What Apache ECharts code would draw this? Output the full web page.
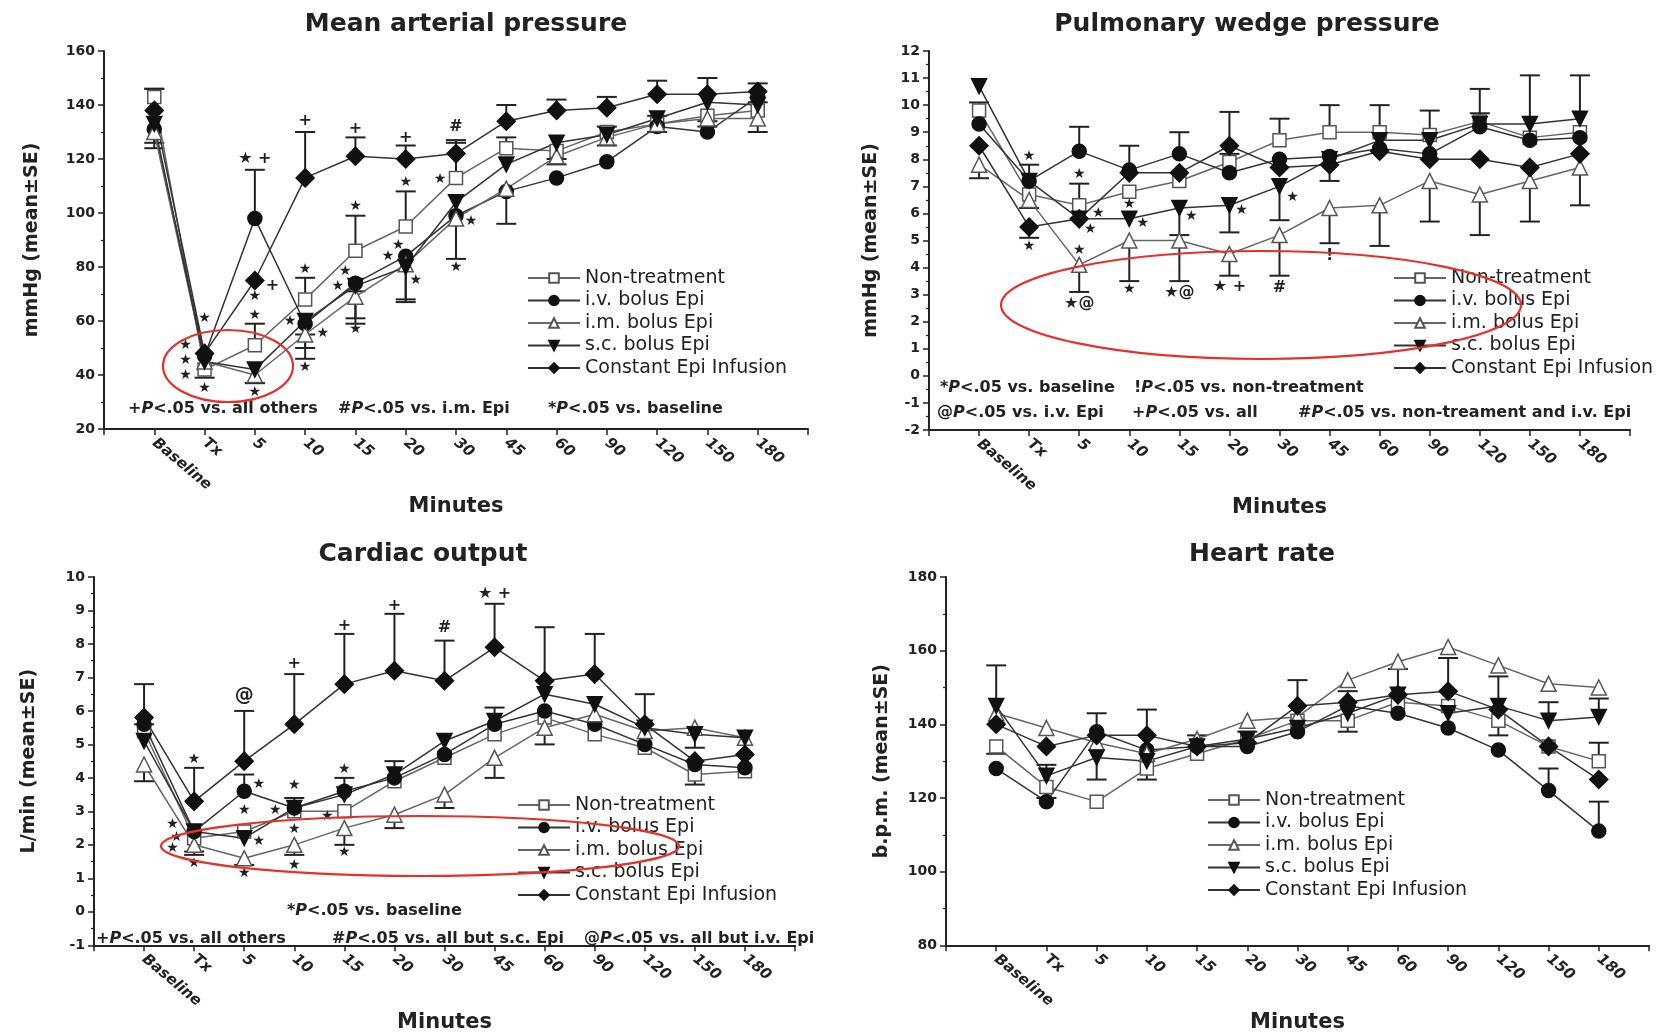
<!DOCTYPE html>
<html>
<head>
<meta charset="utf-8">
<script src="https://cdn.jsdelivr.net/npm/echarts/dist/echarts.min.js"></script>
<style>
html, body { margin: 0; background: #fff; }
#main { width: 1678px; height: 1034px; }
</style>
</head>
<body>
<div id="main"></div>
<script>
var timeLabels = ['Baseline', 'Tx', '5', '10', '15', '20', '30', '45', '60', '90', '120', '150', '180'];
var groupNames = ['Non-treatment', 'i.v. bolus Epi', 'i.m. bolus Epi', 's.c. bolus Epi', 'Constant Epi Infusion'];

// Mean arterial pressure (mmHg)
var mapNonTreat = [143, 42, 51, 68, 86, 95, 113, 124, 123, 130, 133, 136, 138];
var mapIvBolus  = [131, 47, 98, 59, 74, 84, 99, 108, 113, 119, 132, 130, 143];
var mapImBolus  = [130, 45, 40, 55, 69, 81, 98, 109, 121, 128, 133, 135, 135];
var mapScBolus  = [133, 45, 42, 60, 73, 80, 104, 118, 126, 129, 135, 141, 140];
var mapInfusion = [138, 48, 75, 113, 121, 120, 122, 134, 138, 139, 144, 144, 145];
// SE bars: + drawn upward, - drawn downward, 0 = not shown
var mapNonTreatSE = [3, -3, 8, 8, 13, 13, 13, 4, -3, 2, 3, -2, 3];
var mapIvBolusSE  = [-7, 0, 18, -4, -3, -17, -16, 0, 0, 0, 0, 0, 0];
var mapImBolusSE  = [-4, 0, -3, -9, -8, 0, 0, -13, -3, -3, -3, -3, -5];
var mapScBolusSE  = [0, 0, -5, -10, -14, -12, 0, 0, 0, 0, 0, 0, 0];
var mapInfusionSE = [8, 0, 0, 17, 7, 5, 5, 6, 4, 4, 5, 6, 3];
var mapMarks = [
  [1, 61, '★'], [0.62, 51, '★'], [0.62, 45.5, '★'], [0.62, 40, '★'], [1, 35, '★'],
  [2, 120, '★ +'], [2, 69, '★'], [2.35, 73, '+'], [2, 62, '★'], [2, 33.5, '★'],
  [3, 134, '+'], [3, 79, '★'], [2.7, 60, '★'], [3.35, 55.5, '★'], [3, 43, '★'],
  [4, 131, '+'], [4, 102.5, '★'], [3.8, 78.5, '★'], [3.65, 73, '★'], [4, 57, '★'],
  [5, 128, '+'], [5, 111.5, '★'], [4.85, 88, '★'], [4.65, 84, '★'], [5.2, 75, '★'],
  [6, 132, '#'], [5.68, 112.5, '★'], [6.3, 97, '★'], [6, 80, '★']
];

// Pulmonary wedge pressure (mmHg)
var pwpNonTreat = [9.8, 6.7, 6.3, 6.8, 7.2, 7.9, 8.7, 9.0, 9.0, 8.9, 9.4, 8.8, 9.0];
var pwpIvBolus  = [9.3, 7.2, 8.3, 7.6, 8.2, 7.5, 8.0, 8.1, 8.4, 8.2, 9.2, 8.7, 8.8];
var pwpImBolus  = [7.8, 6.5, 4.1, 5.0, 5.0, 4.5, 5.2, 6.2, 6.3, 7.2, 6.7, 7.2, 7.7];
var pwpScBolus  = [10.7, 7.2, 5.8, 5.8, 6.2, 6.3, 7.0, 8.0, 8.7, 8.7, 9.3, 9.3, 9.5];
var pwpInfusion = [8.5, 5.5, 5.8, 7.5, 7.5, 8.5, 7.7, 7.8, 8.3, 8.0, 8.0, 7.7, 8.2];
var pwpNonTreatSE = [0.3, -0.5, 0.8, 0, 0, 0.3, 0.8, 1.0, 1.0, 0.9, 0.3, 0, 0];
var pwpIvBolusSE  = [0, 0, 0.9, 0.9, 0.8, 0, 0, 0, 0, 0, 0, 0, 0];
var pwpImBolusSE  = [-0.5, 0, -1.0, -1.5, -1.5, -0.8, -1.5, -1.3, -1.5, -1.5, -1.5, -1.5, -1.4];
var pwpScBolusSE  = [0, 0.6, 0, 0, -1.0, -1.0, -1.25, 0, 0, 0, 1.3, 1.8, 1.6];
var pwpInfusionSE = [0, -0.4, 0, 0, 0, 1.25, 0, -0.6, 0, 0, 0, 0, 0];
var pwpMarks = [
  [1, 8.1, '★'], [1, 4.8, '★'],
  [2, 7.45, '★'], [2.38, 6.0, '★'], [2.22, 5.4, '★'], [2, 4.65, '★'], [2, 2.65, '★@'],
  [3, 6.35, '★'], [3.27, 5.65, '★'], [3, 3.2, '★'],
  [4.24, 5.9, '★'], [4, 3.05, '★@'],
  [5.24, 6.1, '★'], [5, 3.3, '★ +'],
  [6.26, 6.6, '★'], [6, 3.25, '#'],
  [7, 4.45, '!']
];

// Cardiac output (L/min)
var coNonTreat = [5.4, 2.2, 2.4, 3.0, 3.0, 3.9, 4.6, 5.3, 5.8, 5.3, 4.9, 4.1, 4.2];
var coIvBolus  = [5.6, 2.4, 3.6, 3.1, 3.6, 4.0, 4.7, 5.6, 6.0, 5.6, 5.0, 4.4, 4.3];
var coImBolus  = [4.4, 2.0, 1.6, 2.0, 2.5, 2.9, 3.5, 4.6, 5.5, 5.9, 5.4, 5.5, 5.2];
var coScBolus  = [5.1, 2.4, 2.2, 3.1, 3.5, 4.1, 5.1, 5.7, 6.5, 6.2, 5.5, 5.3, 5.2];
var coInfusion = [5.8, 3.3, 4.5, 5.6, 6.8, 7.2, 6.9, 7.9, 6.9, 7.1, 5.6, 4.5, 4.7];
var coNonTreatSE = [0.2, -0.5, 0, 0.4, 0, 0, 0, 0, 0, 0, 0, -0.3, 0];
var coIvBolusSE  = [0, 0, 0.5, 0, 0.4, 0.5, 0, 0.5, 0, 0, 0, 0, 0];
var coImBolusSE  = [-0.5, -0.2, -0.2, -0.3, -0.5, -0.4, -0.4, -0.6, -0.5, 0, 0, 0, 0];
var coScBolusSE  = [0, 0, 0, 0, 0, 0, 0, 0, 0, 0, 0, -0.4, 0];
var coInfusionSE = [1.0, 1.0, 1.5, 1.5, 1.5, 1.7, 1.2, 1.3, 1.6, 1.2, 0.9, 0, 0];
var coMarks = [
  [1, 4.55, '★'], [0.57, 2.6, '★'], [0.65, 2.23, '★'], [0.57, 1.88, '★'], [1, 1.45, '★'],
  [2, 6.45, '@'], [2.29, 3.8, '★'], [2, 3.03, '★'], [2.29, 2.1, '★'], [2, 1.15, '★'],
  [3, 7.42, '+'], [3, 3.78, '★'], [2.62, 3.03, '★'], [3, 2.46, '★'], [3, 1.4, '★'],
  [4, 8.53, '+'], [4, 4.24, '★'], [3.66, 2.84, '★'], [4, 1.78, '★'],
  [5, 9.13, '+'], [6, 8.48, '#'], [7, 9.5, '★ +']
];

// Heart rate (b.p.m.)
var hrNonTreat = [134, 123, 119, 128, 132, 136, 141, 141, 146, 145, 141, 134, 130];
var hrIvBolus  = [128, 119, 138, 133, 134, 134, 138, 145, 143, 139, 133, 122, 111];
var hrImBolus  = [143, 139, 135, 132, 136, 141, 142, 152, 157, 161, 156, 151, 150];
var hrScBolus  = [145, 126, 131, 130, 134, 136, 139, 143, 148, 143, 145, 141, 142];
var hrInfusion = [140, 134, 137, 137, 134, 135, 145, 146, 148, 149, 144, 134, 125];
var hrNonTreatSE = [-2, -3, 0, -3, 0, 0, 0, -3, 0, 0, -4, 0, 5];
var hrIvBolusSE  = [0, 0, 0, 0, 0, 0, 0, 0, 0, 0, 0, 6, 8];
var hrImBolusSE  = [0, 0, 0, 0, 0, 0, 0, 0, 0, 0, 0, 0, 0];
var hrScBolusSE  = [11, 3, -6, 0, 0, 0, 0, 0, 0, 0, 8, 5, 5];
var hrInfusionSE = [0, 0, 6, 7, 3, 3, 7, 3, 7, 9, 0, 0, 0];

var FONT = 'DejaVu Sans';
var INK = '#222';

var groupStyle = [
  { symbol: 'rect', size: 13, rotate: 0, fill: '#fff', border: '#555', line: '#666' },
  { symbol: 'circle', size: 14, rotate: 0, fill: '#111', border: '#111', line: '#333' },
  { symbol: 'triangle', size: 15, rotate: 0, fill: '#fff', border: '#555', line: '#666' },
  { symbol: 'triangle', size: 15, rotate: 180, fill: '#111', border: '#111', line: '#333' },
  { symbol: 'diamond', size: 18, rotate: 0, fill: '#111', border: '#111', line: '#333' }
];

var panels = [
  { title: 'Mean arterial pressure', tx: 466, ty: 24, yName: 'mmHg (mean±SE)', yGap: 62, xGap: 52,
    min: 20, max: 160, step: 20, grid: { left: 104, top: 51, width: 704, height: 378 },
    legend: { left: 527, top: 268 },
    means: [mapNonTreat, mapIvBolus, mapImBolus, mapScBolus, mapInfusion],
    se: [mapNonTreatSE, mapIvBolusSE, mapImBolusSE, mapScBolusSE, mapInfusionSE], marks: mapMarks },
  { title: 'Pulmonary wedge pressure', tx: 1247, ty: 24, yName: 'mmHg (mean±SE)', yGap: 48, xGap: 52,
    min: -2, max: 12, step: 1, grid: { left: 929, top: 51, width: 701, height: 379 },
    legend: { left: 1393, top: 268 },
    means: [pwpNonTreat, pwpIvBolus, pwpImBolus, pwpScBolus, pwpInfusion],
    se: [pwpNonTreatSE, pwpIvBolusSE, pwpImBolusSE, pwpScBolusSE, pwpInfusionSE], marks: pwpMarks },
  { title: 'Cardiac output', tx: 423, ty: 554, yName: 'L/min (mean±SE)', yGap: 55, xGap: 54,
    min: -1, max: 10, step: 1, grid: { left: 94, top: 577, width: 701, height: 380 },
    legend: { left: 517, top: 795 },
    means: [coNonTreat, coIvBolus, coImBolus, coScBolus, coInfusion],
    se: [coNonTreatSE, coIvBolusSE, coImBolusSE, coScBolusSE, coInfusionSE], marks: coMarks },
  { title: 'Heart rate', tx: 1262, ty: 554, yName: 'b.p.m. (mean±SE)', yGap: 54, xGap: 51,
    min: 80, max: 180, step: 20, grid: { left: 946, top: 577, width: 703, height: 380 },
    legend: { left: 1207, top: 790 },
    means: [hrNonTreat, hrIvBolus, hrImBolus, hrScBolus, hrInfusion],
    se: [hrNonTreatSE, hrIvBolusSE, hrImBolusSE, hrScBolusSE, hrInfusionSE], marks: [] }
];

function renderErr(params, api) {
  var x = api.value(0), v = api.value(1), e = api.value(2);
  var p0 = api.coord([x, v]);
  var p1 = api.coord([x, v + e]);
  var st = { stroke: INK, lineWidth: 2 };
  return {
    type: 'group',
    children: [
      { type: 'line', shape: { x1: p0[0], y1: p0[1], x2: p1[0], y2: p1[1] }, style: st },
      { type: 'line', shape: { x1: p1[0] - 10, y1: p1[1], x2: p1[0] + 10, y2: p1[1] }, style: st }
    ]
  };
}

function markRenderer(marks) {
  return function (params, api) {
    var pt = api.coord([api.value(0), api.value(1)]);
    var t = marks[params.dataIndex][2];
    var small = t === '★';
    return {
      type: 'text', x: pt[0], y: pt[1],
      style: { text: t, align: 'center', verticalAlign: 'middle', fill: INK,
        font: 'bold ' + (small ? 14 : (t === '@' ? 19 : 16)) + 'px "' + FONT + '"' }
    };
  };
}

var series = [];
panels.forEach(function (p, pi) {
  groupNames.forEach(function (name, g) {
    var errData = [];
    p.se[g].forEach(function (e, i) { if (e) errData.push([i, p.means[g][i], e]); });
    series.push({ type: 'custom', xAxisIndex: pi, yAxisIndex: pi, renderItem: renderErr,
      data: errData, z: 2, silent: true, clip: false });
  });
  groupNames.forEach(function (name, g) {
    var st = groupStyle[g];
    series.push({
      type: 'line', name: name, xAxisIndex: pi, yAxisIndex: pi, z: 3,
      data: p.means[g].map(function (v, i) { return [i, v]; }),
      symbol: st.symbol, symbolSize: st.size, symbolRotate: st.rotate, showSymbol: true,
      lineStyle: { color: st.line, width: 1.5 },
      itemStyle: { color: st.fill, borderColor: st.border, borderWidth: 1.5 },
      emphasis: { disabled: true }
    });
  });
  if (p.marks.length) {
    series.push({ type: 'custom', xAxisIndex: pi, yAxisIndex: pi, z: 4, silent: true, clip: false,
      renderItem: markRenderer(p.marks),
      data: p.marks.map(function (m) { return [m[0], m[1]]; }) });
  }
});

function note(text, x, y) {
  return {
    type: 'text', x: x, y: y, z: 10,
    style: { text: text, fontSize: 16, fontWeight: 'bold', fontFamily: FONT, fill: INK,
      verticalAlign: 'middle',
      rich: { i: { fontSize: 16, fontWeight: 'bold', fontStyle: 'italic', fontFamily: FONT, fill: INK } } }
  };
}

var graphics = [];
panels.forEach(function (p) {
  graphics.push({ type: 'text', x: p.tx, y: p.ty, z: 10,
    style: { text: p.title, align: 'center', verticalAlign: 'middle', fill: INK,
      font: 'bold 25px "' + FONT + '"' } });
});
graphics.push(
  note('+{i|P}<.05 vs. all others', 128, 409),
  note('#{i|P}<.05 vs. i.m. Epi', 338, 409),
  note('*{i|P}<.05 vs. baseline', 548, 409),
  note('*{i|P}<.05 vs. baseline', 940, 388),
  note('!{i|P}<.05 vs. non-treatment', 1134, 388),
  note('@{i|P}<.05 vs. i.v. Epi', 937, 413),
  note('+{i|P}<.05 vs. all', 1132, 413),
  note('#{i|P}<.05 vs. non-treament and i.v. Epi', 1298, 413),
  note('*{i|P}<.05 vs. baseline', 287, 911),
  note('+{i|P}<.05 vs. all others', 96, 939),
  note('#{i|P}<.05 vs. all but s.c. Epi', 332, 939),
  note('@{i|P}<.05 vs. all but i.v. Epi', 584, 939)
);
var ringStyle = { fill: 'none', stroke: '#e8302a', lineWidth: 2.2 };
graphics.push(
  { type: 'ellipse', z: 12, shape: { cx: 228, cy: 366, rx: 65, ry: 36 }, style: ringStyle },
  { type: 'ellipse', z: 12, shape: { cx: 1261, cy: 305, rx: 260, ry: 54 }, style: ringStyle },
  { type: 'ellipse', z: 12, shape: { cx: 420, cy: 846, rx: 259, ry: 30 }, style: ringStyle }
);

var option = {
  animation: false,
  backgroundColor: '#fff',
  textStyle: { fontFamily: FONT },
  grid: panels.map(function (p) { return p.grid; }),
  xAxis: panels.map(function (p, i) {
    return {
      gridIndex: i, type: 'value', min: -1, max: 13, interval: 1,
      name: 'Minutes', nameLocation: 'middle', nameGap: p.xGap,
      nameTextStyle: { fontSize: 21, fontWeight: 'bold', color: INK, fontFamily: FONT },
      axisLine: { onZero: false, lineStyle: { color: INK, width: 2 } },
      axisTick: { length: 6, lineStyle: { color: INK, width: 1.5 } },
      splitLine: { show: false },
      axisLabel: {
        rotate: -40, margin: 12, fontSize: 15, fontWeight: 'bold', fontStyle: 'italic', color: INK,
        formatter: function (v) { return timeLabels[v] || ''; }
      }
    };
  }),
  yAxis: panels.map(function (p, i) {
    return {
      gridIndex: i, type: 'value', min: p.min, max: p.max, interval: p.step,
      name: p.yName, nameLocation: 'middle', nameGap: p.yGap,
      nameTextStyle: { fontSize: 19, fontWeight: 'bold', color: INK, fontFamily: FONT },
      axisLine: { show: true, onZero: false, lineStyle: { color: INK, width: 2 } },
      axisTick: { show: true, length: 6, lineStyle: { color: INK, width: 1.5 } },
      minorTick: { show: true, splitNumber: 2, length: 3, lineStyle: { color: INK, width: 1.2 } },
      splitLine: { show: false },
      axisLabel: { fontSize: 14, fontWeight: 'bold', color: INK, margin: 9 }
    };
  }),
  legend: panels.map(function (p) {
    return {
      orient: 'vertical', left: p.legend.left, top: p.legend.top, padding: 0,
      itemWidth: 52, itemHeight: 12, itemGap: 2.5, selectedMode: false, data: groupNames,
      textStyle: { fontSize: 19, lineHeight: 20, color: INK, fontFamily: FONT }
    };
  }),
  series: series,
  graphic: { elements: graphics }
};

var chart = echarts.init(document.getElementById('main'));
chart.setOption(option);
</script>
</body>
</html>
